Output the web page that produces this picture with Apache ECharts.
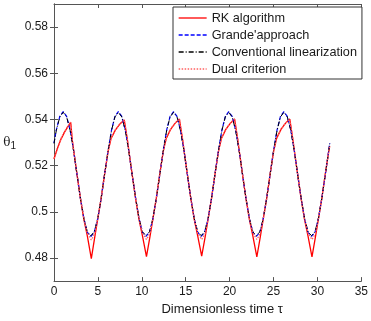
<!DOCTYPE html>
<html>
<head>
<meta charset="utf-8">
<script src="https://cdn.jsdelivr.net/npm/echarts@6/dist/echarts.min.js"></script>
<style>
  html, body { margin: 0; padding: 0; background: #fff; }
  #chart { width: 371px; height: 321px; }
</style>
</head>
<body>
<div id="chart"></div>
<script>
// ---- data ----
const seriesNames = ["RK algorithm", "Grande'approach", "Conventional linearization", "Dual criterion"];
const xTicks = [0, 5, 10, 15, 20, 25, 30, 35];
const yTicks = [0.48, 0.5, 0.52, 0.54, 0.56, 0.58];

const tauSmooth = [0, 0.26, 0.66, 1.05, 1.44, 1.84, 2.23, 2.62, 3.01, 3.41, 3.80, 4.19, 4.58, 4.98, 5.37, 5.76, 6.16, 6.55, 6.94,
  7.33, 7.72, 8.12, 8.51, 8.90, 9.30, 9.69, 10.08, 10.47, 10.87, 11.26, 11.65, 12.05, 12.44, 12.83, 13.22,
  13.62, 14.01, 14.40, 14.80, 15.19, 15.58, 15.97, 16.37, 16.76, 17.15, 17.55, 17.94, 18.33, 18.73, 19.12, 19.51,
  19.90, 20.29, 20.69, 21.08, 21.47, 21.86, 22.26, 22.65, 23.04, 23.44, 23.83, 24.22, 24.61, 25.01, 25.40, 25.79,
  26.18, 26.57, 26.97, 27.36, 27.75, 28.15, 28.54, 28.93, 29.32, 29.72, 30.11, 30.50, 30.90, 31.29, 31.40];

const grande = [0.5298, 0.5354, 0.5413, 0.5434, 0.5413, 0.5354, 0.5266, 0.5162, 0.5058, 0.4970, 0.4911, 0.4893, 0.4911, 0.4970, 0.5058, 0.5162, 0.5266, 0.5354, 0.5413,
  0.5434, 0.5413, 0.5354, 0.5266, 0.5162, 0.5058, 0.4970, 0.4911, 0.4894, 0.4911, 0.4970, 0.5058, 0.5162, 0.5266, 0.5354, 0.5413,
  0.5434, 0.5413, 0.5354, 0.5266, 0.5162, 0.5058, 0.4970, 0.4911, 0.4894, 0.4911, 0.4970, 0.5058, 0.5162, 0.5266, 0.5354, 0.5413,
  0.5434, 0.5413, 0.5354, 0.5266, 0.5162, 0.5058, 0.4970, 0.4911, 0.4894, 0.4911, 0.4970, 0.5058, 0.5162, 0.5266, 0.5354, 0.5413,
  0.5434, 0.5413, 0.5354, 0.5266, 0.5162, 0.5058, 0.4970, 0.4911, 0.4894, 0.4911, 0.4970, 0.5058, 0.5162, 0.5266, 0.5298];

const conventional = [0.5296, 0.5352, 0.5411, 0.5431, 0.5411, 0.5352, 0.5265, 0.5161, 0.5058, 0.4971, 0.4913, 0.4896, 0.4913, 0.4971, 0.5058, 0.5161, 0.5264, 0.5352, 0.5411,
  0.5431, 0.5411, 0.5352, 0.5265, 0.5161, 0.5058, 0.4971, 0.4913, 0.4897, 0.4913, 0.4971, 0.5058, 0.5161, 0.5264, 0.5352, 0.5411,
  0.5431, 0.5411, 0.5352, 0.5265, 0.5161, 0.5058, 0.4971, 0.4913, 0.4897, 0.4913, 0.4971, 0.5058, 0.5161, 0.5264, 0.5352, 0.5411,
  0.5431, 0.5411, 0.5352, 0.5265, 0.5161, 0.5058, 0.4971, 0.4913, 0.4897, 0.4913, 0.4971, 0.5058, 0.5161, 0.5264, 0.5352, 0.5411,
  0.5431, 0.5411, 0.5352, 0.5265, 0.5161, 0.5058, 0.4971, 0.4913, 0.4897, 0.4913, 0.4971, 0.5058, 0.5161, 0.5264, 0.5295];

const tauRK = [0, 0.4, 0.8, 1.2, 1.6, 1.9, 2.08, 2.23, 2.62, 3.01, 3.41, 3.80, 4.25, 4.65, 4.98, 5.37, 5.76, 6.16, 6.50, 7.00, 7.50, 8.00, 8.20,
  8.36, 8.51, 8.90, 9.29, 9.69, 10.08, 10.53, 10.93, 11.26, 11.65, 12.04, 12.44, 12.78, 13.28, 13.78, 14.28, 14.48,
  14.65, 14.80, 15.19, 15.58, 15.98, 16.37, 16.82, 17.22, 17.55, 17.94, 18.33, 18.73, 19.07, 19.57, 20.07, 20.57, 20.77,
  20.93, 21.08, 21.47, 21.86, 22.26, 22.65, 23.10, 23.50, 23.83, 24.22, 24.61, 25.01, 25.35, 25.85, 26.35, 26.85, 27.05,
  27.21, 27.36, 27.75, 28.14, 28.54, 28.93, 29.38, 29.78, 30.11, 30.50, 30.89, 31.29, 31.40];

const rk = [0.5229, 0.5275, 0.5315, 0.5345, 0.5370, 0.5388, 0.5312, 0.5268, 0.5162, 0.5058, 0.4965, 0.4895, 0.4797, 0.4893, 0.4968, 0.5058, 0.5162, 0.5262, 0.5318, 0.5355, 0.5380, 0.5398, 0.5405,
  0.5312, 0.5268, 0.5162, 0.5058, 0.4965, 0.4895, 0.4806, 0.4893, 0.4968, 0.5058, 0.5162, 0.5262, 0.5318, 0.5357, 0.5383, 0.5402, 0.5410,
  0.5312, 0.5268, 0.5162, 0.5058, 0.4965, 0.4895, 0.4808, 0.4893, 0.4968, 0.5058, 0.5162, 0.5262, 0.5318, 0.5357, 0.5383, 0.5402, 0.5410,
  0.5312, 0.5268, 0.5162, 0.5058, 0.4965, 0.4895, 0.4805, 0.4893, 0.4968, 0.5058, 0.5162, 0.5262, 0.5318, 0.5357, 0.5383, 0.5402, 0.5410,
  0.5312, 0.5268, 0.5162, 0.5058, 0.4965, 0.4895, 0.4805, 0.4893, 0.4968, 0.5058, 0.5162, 0.5262, 0.5285];

const dual = [0.5231, 0.5278, 0.5318, 0.5348, 0.5372, 0.5388, 0.5314, 0.5268, 0.5162, 0.5058, 0.4968, 0.4908, 0.4878, 0.4906, 0.4970, 0.5058, 0.5162, 0.5262, 0.5318, 0.5356, 0.5381, 0.5398, 0.5405,
  0.5314, 0.5268, 0.5162, 0.5058, 0.4968, 0.4908, 0.4880, 0.4906, 0.4970, 0.5058, 0.5162, 0.5262, 0.5318, 0.5358, 0.5384, 0.5402, 0.5410,
  0.5314, 0.5268, 0.5162, 0.5058, 0.4968, 0.4908, 0.4880, 0.4906, 0.4970, 0.5058, 0.5162, 0.5262, 0.5318, 0.5358, 0.5384, 0.5402, 0.5410,
  0.5314, 0.5268, 0.5162, 0.5058, 0.4968, 0.4908, 0.4880, 0.4906, 0.4970, 0.5058, 0.5162, 0.5262, 0.5318, 0.5358, 0.5384, 0.5402, 0.5410,
  0.5314, 0.5268, 0.5162, 0.5058, 0.4968, 0.4908, 0.4880, 0.4906, 0.4970, 0.5058, 0.5162, 0.5262, 0.5287];

// ---- build chart ----
const pairs = (xs, ys) => xs.map((x, i) => [x, ys[i]]);
const FONT = 'Liberation Sans, Arial, sans-serif';
const AX = '#555';

const chart = echarts.init(document.getElementById('chart'), null, { renderer: 'canvas' });

const tickStyle = { show: true, inside: true, length: 4, lineStyle: { color: AX, width: 1 } };

chart.setOption({
  animation: false,
  backgroundColor: '#fff',
  grid: { left: 54, right: 5, top: 4, bottom: 35, containLabel: false },
  legend: {
    orient: 'vertical',
    left: 173, top: 7,
    itemWidth: 28, itemHeight: 14, itemGap: 3,
    padding: [4, 5, 3, 5],
    backgroundColor: '#fff',
    borderColor: '#333', borderWidth: 1,
    itemStyle: { color: 'rgba(0,0,0,0)', borderColor: 'rgba(0,0,0,0)', borderWidth: 0 },
    lineStyle: { width: 1.3 },
    textStyle: { fontFamily: FONT, fontSize: 12.7, color: '#1a1a1a', lineHeight: 14 },
    data: seriesNames
  },
  xAxis: [{
    type: 'value', min: xTicks[0], max: xTicks[xTicks.length - 1], interval: 5,
    name: 'Dimensionless time τ', nameLocation: 'middle', nameGap: 20,
    nameTextStyle: { fontFamily: FONT, fontSize: 13, color: '#1a1a1a', padding: [0, 0, 0, 29] },
    axisLine: { show: true, lineStyle: { color: AX, width: 1 } },
    axisTick: tickStyle,
    axisLabel: { fontFamily: FONT, fontSize: 12, color: '#1a1a1a', margin: 5 },
    splitLine: { show: false }
  }, {
    type: 'value', position: 'top', min: xTicks[0], max: xTicks[xTicks.length - 1], interval: 5,
    axisLine: { show: true, lineStyle: { color: AX, width: 1 } },
    axisTick: tickStyle, axisLabel: { show: false }, splitLine: { show: false }
  }],
  yAxis: [{
    type: 'value', min: 0.47, max: 0.59, interval: 0.01,
    name: '{a|θ}{b|1}', nameLocation: 'middle', nameRotate: 0, nameGap: 38,
    nameTextStyle: {
      rich: {
        a: { fontFamily: 'DejaVu Serif', fontSize: 12, color: '#1a1a1a' },
        b: { fontFamily: FONT, fontSize: 10, color: '#1a1a1a', padding: [8, 0, 0, 0] }
      }
    },
    axisLine: { show: true, lineStyle: { color: AX, width: 1 } },
    axisTick: Object.assign({}, tickStyle, { customValues: yTicks }),
    axisLabel: { fontFamily: FONT, fontSize: 12, color: '#1a1a1a', margin: 6, customValues: yTicks },
    splitLine: { show: false }
  }, {
    type: 'value', position: 'right', min: 0.47, max: 0.59, interval: 0.01,
    axisLine: { show: true, lineStyle: { color: AX, width: 1 } },
    axisTick: Object.assign({}, tickStyle, { customValues: yTicks }),
    axisLabel: { show: false }, splitLine: { show: false }
  }],
  series: [
    { name: seriesNames[0], type: 'line', symbol: 'none', data: pairs(tauRK, rk),
      lineStyle: { color: '#ff0000', width: 1.3, type: 'solid' }, itemStyle: { color: '#ff0000' } },
    { name: seriesNames[1], type: 'line', symbol: 'none', data: pairs(tauSmooth, grande),
      lineStyle: { color: '#0000ff', width: 1.2, type: [4, 2] }, itemStyle: { color: '#0000ff' } },
    { name: seriesNames[2], type: 'line', symbol: 'none', data: pairs(tauSmooth, conventional),
      lineStyle: { color: '#000000', width: 1, type: [5, 2, 1, 2] }, itemStyle: { color: '#000000' } },
    { name: seriesNames[3], type: 'line', symbol: 'none', data: pairs(tauRK, dual),
      lineStyle: { color: '#ff6060', width: 1.3, type: [1.5, 1.5] }, itemStyle: { color: '#ff6060' } }
  ]
});
</script>
</body>
</html>
